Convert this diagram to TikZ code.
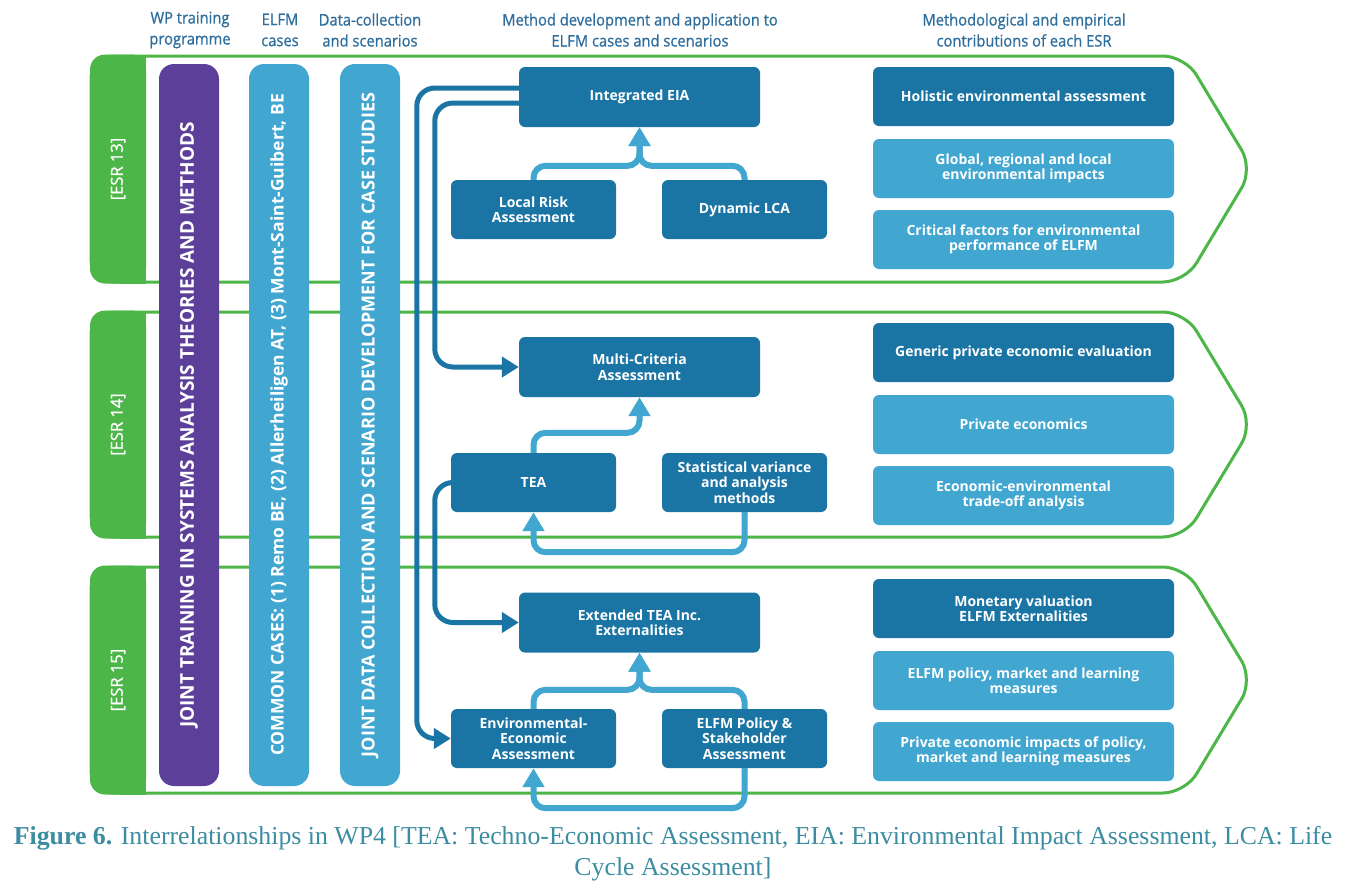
\documentclass[tikz,border=0pt]{standalone}
\usepackage{fontspec}
\setmainfont{Liberation Serif}
\newfontfamily\boxfont{Open Sans}
\newfontfamily\semifont[FakeBold=1.2]{Open Sans}
\newfontfamily\headfont[FakeStretch=0.92,FakeBold=0.8]{Open Sans}
\usetikzlibrary{arrows.meta,calc}
\definecolor{esrgreen}{RGB}{77,182,72}
\definecolor{elfmdark}{RGB}{27,117,164}
\definecolor{elfmlight}{RGB}{66,167,208}
\definecolor{trainpurple}{RGB}{91,63,152}
\definecolor{headblue}{RGB}{45,110,157}
\definecolor{capteal}{RGB}{60,141,161}
\newcommand\esrband[4]{%
  \draw[bandline] (91,#2) -- (1185,#2) -- (1253,{(#2+#3)/2}) -- (1185,#3) -- (91,#3) -- cycle;
  \fill[esrgreen,rounded corners=15pt] (90,{#2-1.5}) rectangle (146,{#3+1.5});
  \fill[esrgreen] (120,{#2-1.5}) rectangle (146,{#3+1.5});
  \node(#1)[esrlabel] at (118,{(#2+#3)/2}) {#4};}

\begin{document}
\begin{tikzpicture}[x=1pt,y=-1pt,
    bandline/.style={draw=esrgreen,line width=3pt,rounded corners=22pt,fill=white},
    esrlabel/.style={rotate=90,text=white,font=\semifont\fontsize{16.5}{18}\selectfont},
    colbox/.style={rotate=90,text=white,rounded corners=15pt,minimum width=722pt,minimum height=60pt,inner sep=0pt,
        font=\boxfont\bfseries\fontsize{17.5}{20}\selectfont},
    box/.style={fill=elfmdark,text=white,rounded corners=6pt,inner sep=0pt,align=center,
        font=\boxfont\bfseries\fontsize{14}{15.5}\selectfont},
    mainbox/.style={box,minimum width=241pt,minimum height=60pt},
    subbox/.style={box,minimum width=165pt,minimum height=59pt},
    resbox/.style={box,minimum width=301pt,minimum height=59pt},
    light/.style={fill=elfmlight},
    head/.style={text=headblue,align=center,font=\headfont\fontsize{16}{21}\selectfont},
    darkline/.style={draw=elfmdark,line width=5pt,rounded corners=18pt,-{Triangle[length=17pt,width=20pt]}},
    lightline/.style={draw=elfmlight,line width=6pt,rounded corners=12pt,-{Triangle[length=19pt,width=21pt]}}]
    \useasboundingbox[fill=white] (0,0) rectangle (1352,887);

    \node(h1)[head] at (190,30) {WP training\\programme};
    \node(h2)[head] at (280,30) {ELFM\\cases};
    \node(h3)[head] at (370,30) {Data-collection\\and scenarios};
    \node(h4)[head] at (640,30) {Method development and application to\\ELFM cases and scenarios};
    \node(h5)[head] at (1024,30) {Methodological and empirical\\contributions of each ESR};

    \esrband{esr13}{56}{282}{[ESR 13]}
    \esrband{esr14}{312}{537}{[ESR 14]}
    \esrband{esr15}{567}{793}{[ESR 15]}

    \node(training)[colbox,fill=trainpurple,font=\boxfont\bfseries\fontsize{19}{20}\selectfont] at (189,425) {JOINT TRAINING IN SYSTEMS ANALYSIS THEORIES AND METHODS};
    \node(cases)[colbox,fill=elfmlight] at (279,425) {COMMON CASES: (1) Remo BE, (2) Allerheiligen AT, (3) Mont-Saint-Guibert, BE};
    \node(datacol)[colbox,fill=elfmlight,font=\boxfont\bfseries\fontsize{18}{20}\selectfont] at (370,425) {JOINT DATA COLLECTION AND SCENARIO DEVELOPMENT FOR CASE STUDIES};

    \node(eia)[mainbox] at (639.5,97) {Integrated EIA};
    \node(lra)[subbox] at (533.5,209.5) {Local Risk\\Assessment};
    \node(dlca)[subbox] at (744.5,209.5) {Dynamic LCA};
    \node(mca)[mainbox] at (639.5,367) {Multi-Criteria\\Assessment};
    \node(tea)[subbox] at (533.5,482.5) {TEA};
    \node(svam)[subbox] at (744.5,482.5) {Statistical variance\\and analysis\\methods};
    \node(etea)[mainbox] at (639.5,622.5) {Extended TEA Inc.\\Externalities};
    \node(eea)[subbox] at (533.5,738.5) {Environmental-\\Economic\\Assessment};
    \node(eps)[subbox] at (744.5,738.5) {ELFM Policy \&\\Stakeholder\\Assessment};

    \node(r13a)[resbox] at (1023.5,96.5) {Holistic environmental assessment};
    \node(r13b)[resbox,light] at (1023.5,168.5) {Global, regional and local\\environmental impacts};
    \node(r13c)[resbox,light] at (1023.5,239.5) {Critical factors for environmental\\performance of ELFM};
    \node(r14a)[resbox] at (1023.5,352.5) {Generic private economic evaluation};
    \node(r14b)[resbox,light] at (1023.5,424.5) {Private economics};
    \node(r14c)[resbox,light] at (1023.5,495.5) {Economic-environmental\\trade-off analysis};
    \node(r15a)[resbox] at (1023.5,608.5) {Monetary valuation\\ELFM Externalities};
    \node(r15b)[resbox,light] at (1023.5,680.5) {ELFM policy, market and learning\\measures};
    \node(r15c)[resbox,light] at (1023.5,751.5) {Private economic impacts of policy,\\market and learning measures};

    \draw[darkline] ($(eia.west)+(0,-9)$) -| ($(eea.west)+(-34,0)$) -- (eea.west);
    \draw[darkline] ($(eia.west)+(0,6)$) -| ($(mca.west)+(-84,0)$) -- (mca.west);
    \draw[darkline] (tea.west) -| ($(etea.west)+(-84,0)$) -- (etea.west);

    \draw[lightline] (lra.north) -- ++(0,-14) -| (eia.south);
    \draw[lightline] (dlca.north) -- ++(0,-14) -| (eia.south);
    \draw[lightline] (tea.north) -- ++(0,-20) -| (mca.south);
    \draw[lightline] (svam.south) -- ++(0,40) -| (tea.south);
    \draw[lightline] (eea.north) -- ++(0,-19) -| (etea.south);
    \draw[lightline] (eps.north) -- ++(0,-19) -| (etea.south);
    \draw[lightline] (eps.south) -- ++(0,40) -| (eea.south);

    \node(caption)[text=capteal,align=center,font=\fontsize{25.8}{31}\selectfont] at (673,854)
        {\textbf{Figure 6.} Interrelationships in WP4 [TEA: Techno-Economic Assessment, EIA: Environmental Impact Assessment, LCA: Life\\Cycle Assessment]};
\end{tikzpicture}
\end{document}
